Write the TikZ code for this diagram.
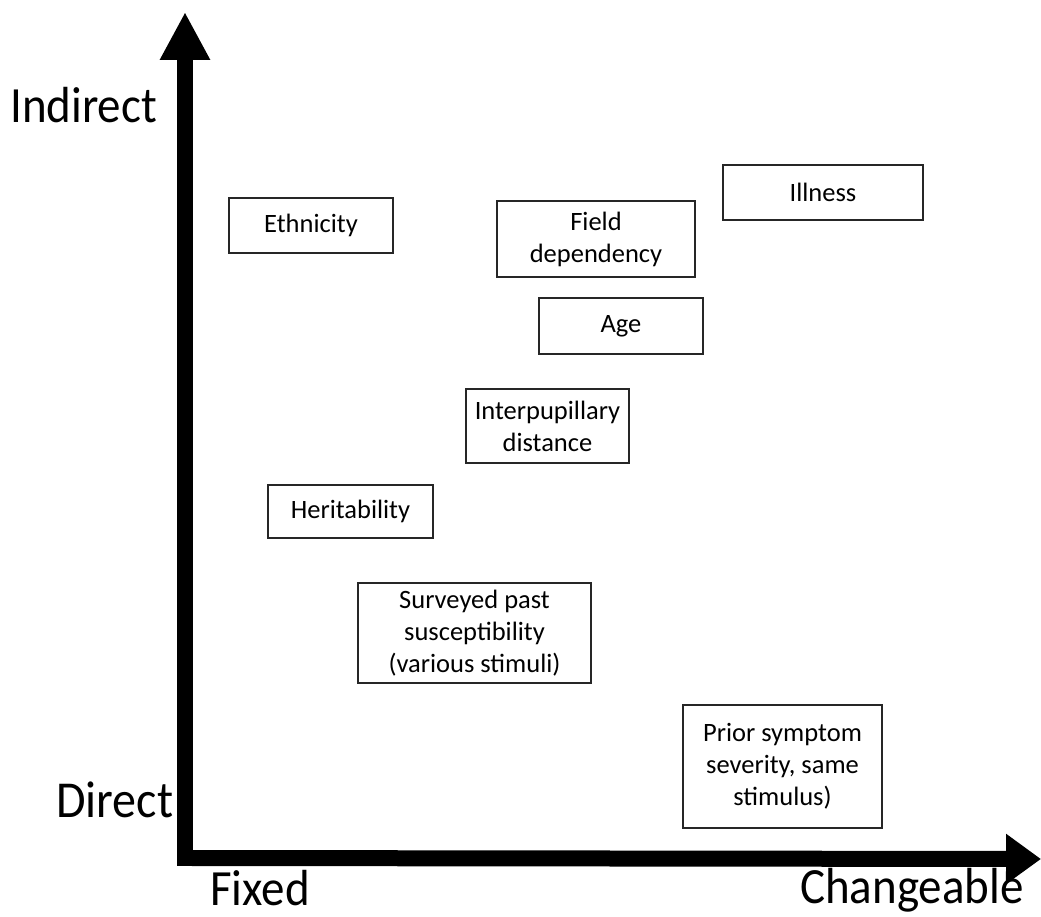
\documentclass[tikz,border=0pt]{standalone}
\usepackage{fontspec}
\setmainfont{Carlito}
\usetikzlibrary{arrows.meta}
\tikzset{
  box/.style={draw=black!85, line width=1.3pt, fill=white, inner sep=0pt, align=center,
    font=\fontsize{26.5}{32}\selectfont},
  axisline/.style={line width=16pt, line cap=butt},
  axlabel/.style={inner sep=0pt, font=\fontsize{47}{50}\selectfont}
}
\begin{document}
\begin{tikzpicture}[x=1pt,y=-1pt]
\useasboundingbox (0,0) rectangle (1041,917);
% axes
\coordinate (O) at (185,858);
\coordinate (ytop) at (185,12);
\coordinate (xend) at (1041,859);
\fill (177,866) rectangle (193,850);
\draw[axisline, -{Triangle[length=48pt,width=47pt]}] (185,851) -- (ytop);
\draw[axisline, -{Triangle[length=35pt,width=48pt]}] (192,858) -- (xend);
% axis labels
\node[axlabel, anchor=base west] (ind) at (10,123) {\scalebox{1}[1.08]{Indirect}};
\node[axlabel, anchor=base west, font=\fontsize{48}{50}\selectfont] (dir) at (56,817) {\scalebox{1}[1.08]{Direct}};
\node[axlabel, anchor=base west] (fix) at (210,905) {\scalebox{1}[1.08]{Fixed}};
\node[axlabel, anchor=base west] (chg) at (800,903) {\scalebox{1}[1.08]{Changeable}};
% boxes
\node[box, minimum width=164pt, minimum height=55pt] (eth) at (311,225.5) {Ethnicity};
\node[box, minimum width=198pt, minimum height=76pt] (fld) at (596,239) {Field\\dependency};
\node[box, minimum width=200pt, minimum height=55pt] (ill) at (823,192.5) {Illness};
\node[box, minimum width=164pt, minimum height=56pt] (age) at (621,326) {Age};
\node[box, minimum width=163pt, minimum height=74pt] (ipd) at (547.5,426) {Interpupillary\\distance};
\node[box, minimum width=165pt, minimum height=53pt] (her) at (350.5,511.5) {Heritability};
\node[box, minimum width=233pt, minimum height=100pt] (sur) at (474.5,633) {Surveyed past\\susceptibility\\(various stimuli)};
\node[box, minimum width=199pt, minimum height=123pt] (pri) at (782.5,766.5) {Prior symptom\\severity, same\\stimulus)};
\end{tikzpicture}
\end{document}
